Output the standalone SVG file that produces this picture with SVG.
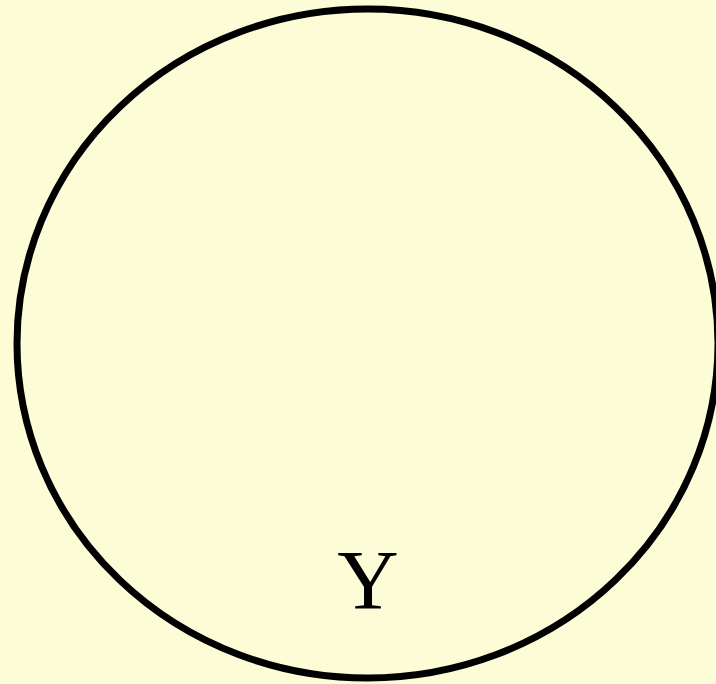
<svg xmlns="http://www.w3.org/2000/svg" width="716" height="684" viewBox="0 0 716 684">
<style>
.node ellipse{fill:none;stroke:#000;stroke-width:7}
.node text{font-family:"Liberation Serif",serif;font-size:85px;fill:#000;text-anchor:middle}
</style>
<rect width="716" height="684" fill="#fcfcd6"/>
<g id="connectors"></g>
<g id="Y" class="node">
<ellipse cx="367.5" cy="343.5" rx="350.5" ry="334.5"/>
<text x="368" y="609">Y</text>
</g>
</svg>
